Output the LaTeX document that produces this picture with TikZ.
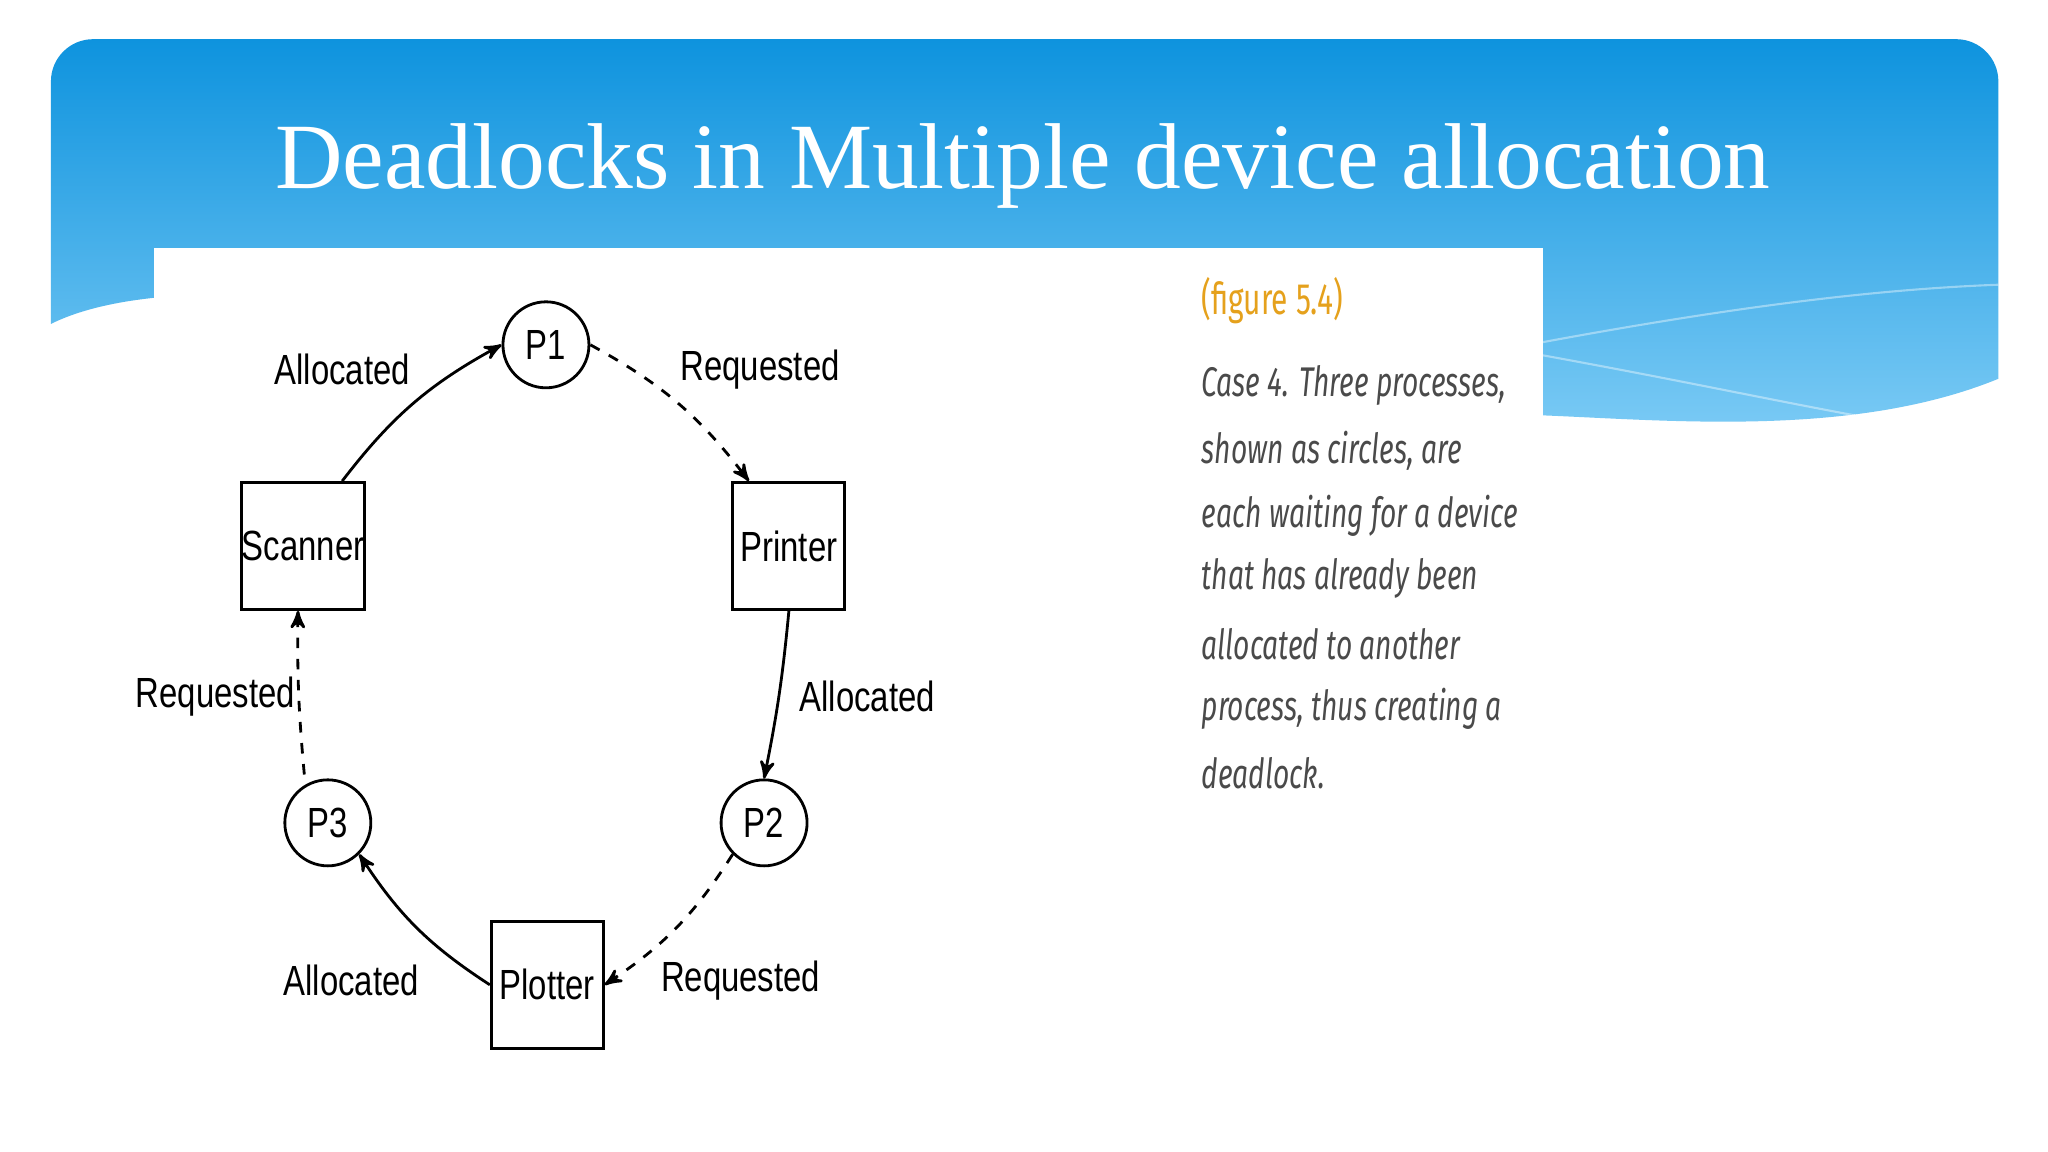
\documentclass[tikz,border=0pt]{standalone}
\usepackage{fontspec}
\setmainfont{Liberation Serif}
\newfontfamily\lblfont{Liberation Sans}[FakeStretch=0.78]
\newfontfamily\capfont{Fira Sans}[FakeStretch=0.68]
\usetikzlibrary{arrows}
\definecolor{bannertop}{HTML}{0E93DE}
\definecolor{bannerbot}{HTML}{7CCBF5}
\definecolor{figorange}{HTML}{E5A11C}
\definecolor{capgray}{HTML}{4A4A4A}
\begin{document}
\begin{tikzpicture}[x=0.013061cm,y=-0.013061cm,>=stealth',thick]
  \tikzstyle{proc}=[circle,draw,thick,minimum size=0.86cm,inner sep=0pt,font=\lblfont\large]
  \tikzstyle{dev}=[rectangle,draw,thick,minimum width=1.12cm,minimum height=1.27cm,inner sep=0pt,font=\lblfont\large]
  \tikzstyle{lbl}=[font=\lblfont\large]
  \tikzstyle{body}=[anchor=west,font=\capfont\itshape\fontsize{11.8}{14}\selectfont,text=capgray]

  \useasboundingbox (0,0) rectangle (1568,882);
  \fill[white] (0,0) rectangle (1568,882);
  % banner
  \shade[top color=bannertop,bottom color=bannerbot,rounded corners=12]
    (39,248) -- (39,30) -- (1530,30) [sharp corners]
    -- (1530,290) .. controls (1420,335) and (1280,322) .. (1181,318)
    -- (118,318) -- (118,228) .. controls (80,232) and (55,240) .. (39,248) -- cycle;
  \draw[white,opacity=0.4,semithick] (1181,262) .. controls (1300,240) and (1420,222) .. (1530,218);
  \draw[white,opacity=0.4,semithick] (1181,272) .. controls (1280,290) and (1350,305) .. (1420,318);
  \fill[white] (118,190) rectangle (1181,882);
  \node[text=white,font=\fontsize{26.6}{30}\selectfont] (title) at (783,127) {Deadlocks in Multiple device allocation};

  % graph
  \node[proc] (p1) at (418,264) {P1};
  \node[proc] (p2) at (585,630) {P2};
  \node[proc] (p3) at (251,630) {P3};
  \node[dev] (scanner) at (232,418) {Scanner};
  \node[dev] (printer) at (604,418) {Printer};
  \node[dev] (plotter) at (419,754) {Plotter};

  \draw[->] (scanner.north) ++(30,0) coordinate (s1) to[bend left=12] (p1.west);
  \draw[->,dashed] (p1.east) to[bend left=12] ([xshift=-0.4cm]printer.north);
  \draw[->] (printer.south) to[bend left=3] (p2.north);
  \draw[->,dashed] (p2.south west) to[bend left=12] (plotter.east);
  \draw[->] (plotter.west) to[bend left=12] (p3.south east);
  \draw[->,dashed] (p3.north) ++(-18,-3) coordinate (p3a) to[bend left=3] ([xshift=-0.05cm]scanner.south);

  \node[lbl] (l1) at (262,283) {Allocated};
  \node[lbl] (l2) at (582,283) {Requested};
  \node[lbl] (l3) at (165,533) {Requested};
  \node[lbl] (l4) at (664,533) {Allocated};
  \node[lbl] (l5) at (269,751) {Allocated};
  \node[lbl] (l6) at (567,751) {Requested};

  % caption
  \node[anchor=west,text=figorange,font=\capfont\fontsize{12.5}{15}\selectfont] (fig) at (910,230) {(figure 5.4)};
  \node[body] (c1) at (910,295) {Case 4. Three processes,};
  \node[body] (c2) at (910,345) {shown as circles, are};
  \node[body] (c3) at (910,395) {each waiting for a device};
  \node[body] (c4) at (910,443) {that has already been};
  \node[body] (c5) at (910,493) {allocated to another};
  \node[body] (c6) at (910,543) {process, thus creating a};
  \node[body] (c7) at (910,592) {deadlock.};
\end{tikzpicture}
\end{document}
